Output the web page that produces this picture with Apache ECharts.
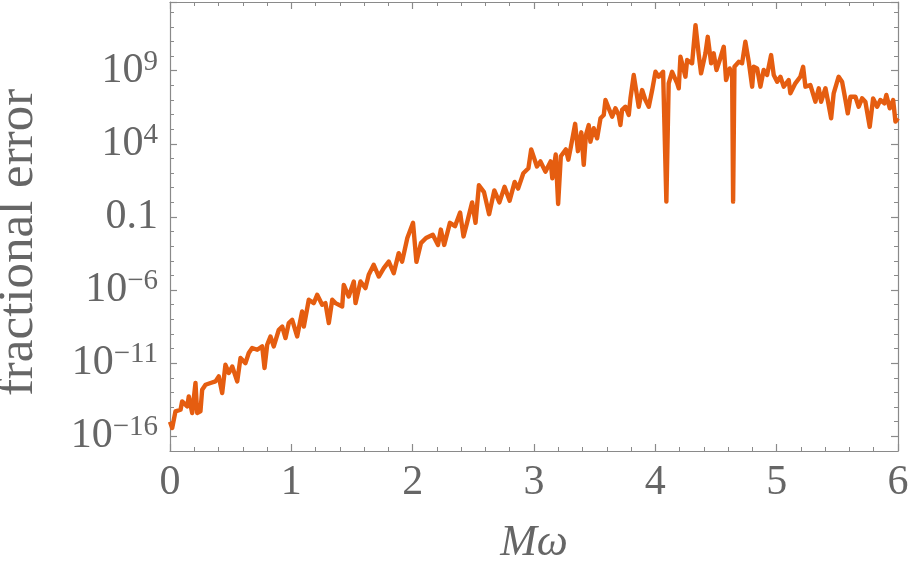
<!DOCTYPE html>
<html>
<head>
<meta charset="utf-8">
<script src="https://cdn.jsdelivr.net/npm/echarts@6/dist/echarts.min.js"></script>
<style>
  html, body { margin: 0; padding: 0; background: #fff; }
  #chart { width: 912px; height: 568px; }
</style>
</head>
<body>
<div id="chart"></div>
<script>
// M*omega values (x) and log10 of the fractional error
var mOmega = [
  0.000, 0.018, 0.045, 0.087, 0.100, 0.142, 0.155, 0.183, 0.210, 0.224,
  0.251, 0.265, 0.293, 0.334, 0.375, 0.402, 0.430, 0.457, 0.485, 0.513,
  0.554, 0.581, 0.622, 0.649, 0.677, 0.719, 0.760, 0.779, 0.801, 0.828,
  0.855, 0.897, 0.925, 0.952, 0.979, 1.007, 1.048, 1.089, 1.103, 1.144,
  1.185, 1.213, 1.254, 1.281, 1.309, 1.337, 1.364, 1.419, 1.432, 1.473,
  1.515, 1.529, 1.570, 1.611, 1.638, 1.679, 1.721, 1.762, 1.803, 1.844,
  1.885, 1.913, 1.956, 2.003, 2.031, 2.068, 2.110, 2.166, 2.209, 2.232,
  2.260, 2.307, 2.349, 2.391, 2.419, 2.448, 2.490, 2.518, 2.546, 2.588,
  2.630, 2.673, 2.715, 2.757, 2.799, 2.841, 2.869, 2.912, 2.954, 2.977,
  3.024, 3.053, 3.094, 3.137, 3.151, 3.179, 3.199, 3.221, 3.263, 3.283,
  3.305, 3.339, 3.362, 3.390, 3.410, 3.428, 3.451, 3.465, 3.492, 3.520,
  3.548, 3.575, 3.589, 3.616, 3.644, 3.671, 3.698, 3.712, 3.726, 3.754,
  3.781, 3.795, 3.822, 3.863, 3.891, 3.918, 3.946, 3.974, 4.001, 4.028,
  4.064, 4.091, 4.110, 4.138, 4.180, 4.193, 4.207, 4.248, 4.262, 4.303,
  4.331, 4.358, 4.377, 4.413, 4.432, 4.460, 4.481, 4.504, 4.531, 4.564,
  4.583, 4.613, 4.633, 4.641, 4.652, 4.687, 4.715, 4.742, 4.770, 4.798,
  4.811, 4.839, 4.866, 4.893, 4.921, 4.954, 4.976, 5.004, 5.031, 5.058,
  5.099, 5.113, 5.154, 5.195, 5.218, 5.237, 5.278, 5.319, 5.347, 5.366,
  5.402, 5.421, 5.449, 5.470, 5.511, 5.539, 5.567, 5.586, 5.608, 5.649,
  5.676, 5.704, 5.731, 5.767, 5.795, 5.828, 5.855, 5.888, 5.904, 5.932,
  5.960, 5.979, 6.000
];
var logErr = [
  -15.00, -15.43, -14.29, -14.18, -13.61, -13.95, -13.27, -14.40, -12.35, -14.40,
  -14.29, -12.81, -12.47, -12.35, -12.24, -11.90, -13.04, -11.10, -11.67, -11.22,
  -12.24, -10.64, -10.99, -10.30, -9.96, -10.08, -9.85, -11.33, -9.74, -9.17,
  -9.85, -8.71, -8.49, -9.28, -8.25, -8.03, -9.17, -7.46, -8.49, -6.66,
  -6.89, -6.32, -7.00, -6.89, -8.25, -6.66, -6.89, -7.12, -5.64, -6.44,
  -5.41, -6.89, -5.41, -5.86, -4.95, -4.27, -5.07, -4.50, -4.05, -4.84,
  -3.47, -4.05, -2.44, -1.40, -4.07, -2.79, -2.44, -2.21, -2.91, -1.86,
  -2.91, -1.40, -1.63, -0.69, -2.33, -1.40, 0.00, -1.40, 1.17, 0.70,
  -0.81, 0.82, 0.00, 1.06, 0.12, 1.40, 0.94, 1.99, 2.33, 3.62,
  2.45, 2.80, 2.10, 2.80, 1.64, 3.27, -0.11, 3.15, 3.62, 2.92,
  3.85, 5.37, 3.50, 4.79, 2.57, 4.60, 5.29, 4.15, 5.07, 4.38,
  5.75, 5.97, 7.00, 6.43, 5.86, 6.43, 5.97, 5.29, 6.32, 6.54,
  5.97, 7.11, 8.71, 6.54, 7.68, 7.00, 6.54, 7.68, 8.93, 8.59,
  8.93, 0.05, 8.14, 8.93, 8.14, 7.80, 9.96, 8.59, 9.73, 9.51,
  12.12, 10.07, 8.82, 10.19, 11.32, 9.51, 10.19, 9.05, 9.73, 10.64,
  8.36, 9.16, 8.71, 0.05, 9.27, 9.61, 9.51, 10.98, 9.61, 7.91,
  9.27, 9.16, 7.91, 9.05, 8.71, 10.07, 8.71, 8.25, 8.59, 7.91,
  8.36, 7.46, 8.14, 8.59, 9.27, 7.91, 8.02, 6.88, 7.80, 6.88,
  7.80, 7.00, 5.75, 7.46, 8.59, 8.25, 7.00, 6.09, 7.22, 7.22,
  6.54, 7.11, 6.88, 5.17, 7.11, 6.54, 7.00, 6.77, 7.34, 6.43,
  7.00, 5.52, 5.75
];
// labelled decades on the y axis (exponents)
var yMajorTicks = [-16, -11, -6, -1, 4, 9];
var xTicks = [0, 1, 2, 3, 4, 5, 6];

var serif = "'Liberation Serif', 'Times New Roman', serif";
var textGray = "#666666";
var frameGray = "#8a8a8a";
var lineColor = "#e55d10";

var seriesData = mOmega.map(function (x, i) {
  return [x, logErr[i]];
});

function supLabel(v) {
  if (yMajorTicks.indexOf(v) < 0) return "";
  if (v === -1) return "0.1";
  return "{b|10}{s|" + String(v).replace("-", "\u2212") + "}";
}

var chart = echarts.init(document.getElementById("chart"));

var frameLine = { show: true, onZero: false, lineStyle: { color: frameGray, width: 1.2 } };
var majorTick = { show: true, inside: true, length: 7, lineStyle: { color: frameGray, width: 1.2 } };
var minorTickY = { show: true, inside: true, length: 4, lineStyle: { color: frameGray, width: 1 } };

chart.setOption({
  animation: false,
  backgroundColor: "#fff",
  grid: [
    // plot frame: bottom edge is 10^-17, top edge ~10^13.7
    { left: 170, right: 14, top: 2, bottom: 117, containLabel: false, outerBoundsMode: "none" },
    // same top, bottom moved up one decade so that major ticks start at 10^-16
    { left: 170, right: 14, top: 2, bottom: 131.63, containLabel: false, outerBoundsMode: "none" },
  ],
  xAxis: [
    {
      type: "value",
      gridIndex: 0,
      position: "bottom",
      min: 0,
      max: 6,
      interval: 1,
      axisLine: frameLine,
      axisTick: majorTick,
      minorTick: { show: true, splitNumber: 5, length: 4, lineStyle: { color: frameGray, width: 1 } },
      splitLine: { show: false },
      axisLabel: {
        margin: 11,
        color: textGray,
        fontFamily: serif,
        fontSize: 42,
        formatter: function (v) {
          return xTicks.indexOf(v) >= 0 ? String(v) : "";
        },
      },
      name: "M\u03c9",
      nameLocation: "middle",
      nameGap: 70,
      nameTextStyle: {
        color: textGray,
        fontFamily: serif,
        fontSize: 44,
        fontStyle: "italic",
      },
    },
    {
      type: "value",
      gridIndex: 0,
      position: "top",
      min: 0,
      max: 6,
      interval: 1,
      axisLine: frameLine,
      axisTick: majorTick,
      minorTick: { show: true, splitNumber: 5, length: 4, lineStyle: { color: frameGray, width: 1 } },
      splitLine: { show: false },
      axisLabel: { show: false },
    },
    {
      type: "value",
      gridIndex: 1,
      min: 0,
      max: 6,
      show: false,
    },
  ],
  yAxis: [
    // every decade, short ticks
    {
      type: "value",
      gridIndex: 0,
      position: "left",
      min: -17,
      max: 13.7,
      interval: 1,
      axisLine: frameLine,
      axisTick: minorTickY,
      splitLine: { show: false },
      axisLabel: { show: false },
      name: "fractional error",
      nameLocation: "middle",
      nameRotate: 90,
      nameGap: 126,
      nameTextStyle: {
        color: textGray,
        fontFamily: serif,
        fontSize: 51,
        padding: [0, 32, 0, 0],
      },
    },
    {
      type: "value",
      gridIndex: 0,
      position: "right",
      min: -17,
      max: 13.7,
      interval: 1,
      axisLine: frameLine,
      axisTick: minorTickY,
      splitLine: { show: false },
      axisLabel: { show: false },
    },
    // labelled decades every 5, longer ticks
    {
      type: "value",
      gridIndex: 1,
      position: "left",
      min: -16,
      max: 13.7,
      interval: 5,
      axisLine: { show: false, onZero: false },
      axisTick: majorTick,
      splitLine: { show: false },
      axisLabel: {
        margin: 12,
        color: textGray,
        fontFamily: serif,
        fontSize: 42,
        formatter: supLabel,
        rich: {
          b: { fontSize: 42, fontFamily: serif, color: textGray, lineHeight: 46 },
          s: { fontSize: 29, fontFamily: serif, color: textGray, lineHeight: 20, verticalAlign: "top" },
        },
      },
    },
    {
      type: "value",
      gridIndex: 1,
      position: "right",
      min: -16,
      max: 13.7,
      interval: 5,
      axisLine: { show: false, onZero: false },
      axisTick: majorTick,
      splitLine: { show: false },
      axisLabel: { show: false },
    },
  ],
  series: [
    {
      name: "fractional error",
      type: "line",
      xAxisIndex: 0,
      yAxisIndex: 0,
      data: seriesData,
      showSymbol: false,
      smooth: false,
      clip: true,
      lineStyle: { color: lineColor, width: 4.4, join: "round" },
      itemStyle: { color: lineColor },
    },
  ],
});
</script>
</body>
</html>
